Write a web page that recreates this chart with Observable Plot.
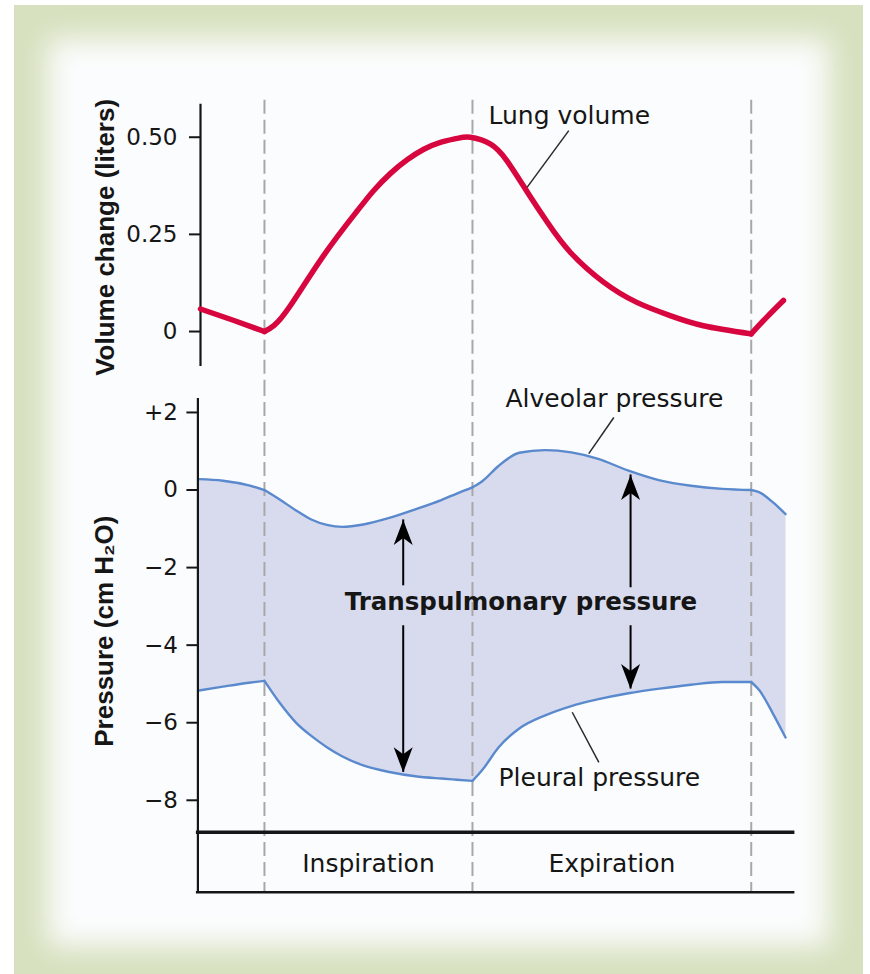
<!DOCTYPE html>
<html>
<head>
<meta charset="utf-8">
<script src="https://cdn.jsdelivr.net/npm/d3@7"></script>
<script src="https://cdn.jsdelivr.net/npm/@observablehq/plot@0.6"></script>
<style>
  html, body { margin: 0; padding: 0; background: #ffffff; }
  #page { position: relative; width: 870px; height: 974px; overflow: hidden; background: #ffffff; }
  #frame { position: absolute; left: 14px; top: 5px; width: 849px; height: 975px;
           background: #fbfcfd; box-shadow: inset 0 0 28px 34px #d7e1bf; }
  .panel { position: absolute; left: 0; }
</style>
</head>
<body>
<div id="page"><div id="frame"></div></div>
<script>
// ---------- data (time in arbitrary units; phase boundaries at dashed lines) ----------
const phaseBoundaries = [0, 2, 4.68];
const phaseNames = ["Inspiration", "Expiration"];

const volumeTime   = [-0.615, -0.3, 0, 0.09, 0.25, 0.57, 0.891, 1.051, 1.212, 1.372, 1.532, 1.692, 1.853, 1.98, 2.17, 2.33, 2.53, 2.72, 2.94, 3.26, 3.58, 3.90, 4.22, 4.68, 4.83, 4.99];
const volumeLiters = [0.058, 0.029, 0.0, 0.015, 0.067, 0.196, 0.310, 0.363, 0.407, 0.442, 0.469, 0.487, 0.497, 0.500, 0.483, 0.44, 0.358, 0.281, 0.204, 0.127, 0.075, 0.041, 0.015, -0.006, 0.037, 0.080];

const pressureTime     = [-0.635, -0.4, -0.15, 0, 0.15, 0.3, 0.45, 0.6, 0.75, 0.95, 1.2, 1.45, 1.7, 1.85, 2.0, 2.1, 2.25, 2.45, 2.7, 2.95, 3.2, 3.5, 3.8, 4.1, 4.4, 4.68, 4.76, 4.89, 5.01];
const alveolarPressure = [0.28, 0.24, 0.12, 0.0, -0.25, -0.52, -0.76, -0.90, -0.95, -0.89, -0.72, -0.50, -0.26, -0.09, 0.07, 0.24, 0.62, 0.96, 1.03, 0.97, 0.81, 0.50, 0.25, 0.11, 0.03, 0.0, -0.06, -0.32, -0.62];
const pleuralPressure  = [-5.17, -5.07, -4.97, -4.92, -5.50, -5.99, -6.34, -6.63, -6.87, -7.10, -7.27, -7.38, -7.44, -7.47, -7.50, -7.20, -6.64, -6.15, -5.81, -5.57, -5.40, -5.24, -5.12, -5.02, -4.95, -4.95, -5.17, -5.77, -6.38];

const volumeTicks   = [0, 0.25, 0.5];
const pressureTicks = [2, 0, -2, -4, -6, -8];

const volumeTitle   = "Volume change (liters)";
const pressureTitle = "Pressure (cm H\u2082O)";

// annotations (data units)
const volumeNotes   = [{t: 2.154, v: 0.533, label: "Lung volume"}];
const volumeLeaders = [{x1: 2.926, y1: 0.517, x2: 2.525, y2: 0.371}];
const pressureNotes = [
  {t: 2.317, p: 2.15, label: "Alveolar pressure"},
  {t: 2.25,  p: -7.62, label: "Pleural pressure"}
];
const pressureLeaders = [
  {x1: 3.359, y1: 1.87, x2: 3.118, y2: 0.94},
  {x1: 2.959, y1: -5.73, x2: 3.215, y2: -7.02}
];
const transpulmonaryLabel = [{t: 2.466, p: -2.88, label: "Transpulmonary pressure"}];
const transpulmonaryArrows = [
  {t: 1.334, from: -2.47, to: -0.77},
  {t: 1.334, from: -3.50, to: -7.28},
  {t: 3.52,  from: -2.52, to: 0.39},
  {t: 3.52,  from: -3.50, to: -5.13}
];

// ---------- build tables ----------
// split a series into pieces at the phase boundaries (corners), sharing the boundary points
const segmentize = (rows, cuts) => rows.flatMap(r => {
  const k = cuts.filter(c => c < r.t).length;
  return cuts.includes(r.t) ? [{...r, seg: k}, {...r, seg: k + 1}] : [{...r, seg: k}];
});
const volumeCorners = [phaseBoundaries[0], phaseBoundaries[2]];
const volume = segmentize(volumeTime.map((t, i) => ({t, v: volumeLiters[i]})), volumeCorners);
const pressure = segmentize(pressureTime.map((t, i) => ({t, alveolar: alveolarPressure[i], pleural: pleuralPressure[i]})), phaseBoundaries);
const phases = phaseNames.map((name, i) => ({name, start: phaseBoundaries[i], end: phaseBoundaries[i + 1]}));

// ---------- style ----------
const W = 870;
const INK = "#161616";
const RED = "#d7063f";
const BLUE = "#5a8acd";
const FILL = "#d8dbee";
const CURVE = "monotone-x";
const DASH = {stroke: "#a8a8a8", strokeWidth: 2, strokeDasharray: "14,6"};
const LABEL_FONT = "'DejaVu Sans', sans-serif";
const TITLE_FONT = "'Liberation Sans', Arial, sans-serif";
const baseStyle = {background: "transparent", overflow: "visible", fontFamily: LABEL_FONT, color: INK};

const headUp = {draw(ctx) { ctx.moveTo(0, 0); ctx.lineTo(9.5, 25); ctx.lineTo(0, 18); ctx.lineTo(-9.5, 25); ctx.closePath(); }};
const headDown = {draw(ctx) { ctx.moveTo(0, 0); ctx.lineTo(9.5, -25); ctx.lineTo(0, -18); ctx.lineTo(-9.5, -25); ctx.closePath(); }};

const fmtVolume = d => d === 0 ? "0" : d.toFixed(2);
const fmtPressure = d => d > 0 ? "+" + d : d < 0 ? "\u2212" + Math.abs(d) : "0";

// ---------- panel 1: lung volume ----------
const volDomainX = [-0.615, 5.1];
const p1 = Plot.plot({
  width: W, height: 292,
  marginLeft: 200, marginRight: 75.6, marginTop: 13.7, marginBottom: 16,
  x: {domain: volDomainX, axis: null},
  y: {domain: [-0.09, 0.585]},
  style: baseStyle,
  marks: [
    Plot.ruleX(phaseBoundaries, {...DASH, insetTop: -4, insetBottom: -16}),
    Plot.axisY({ticks: volumeTicks, tickFormat: fmtVolume, tickSize: 11, tickPadding: 12, strokeWidth: 2, fontSize: 23, label: null}),
    Plot.ruleX([volDomainX[0]], {stroke: INK, strokeWidth: 2.2}),
    Plot.line(volume, {x: "t", y: "v", z: "seg", stroke: RED, strokeWidth: 5.5, curve: "natural", strokeLinejoin: "round", strokeLinecap: "round"}),
    Plot.link(volumeLeaders, {x1: "x1", y1: "y1", x2: "x2", y2: "y2", stroke: "#2a2a2a", strokeWidth: 1.5}),
    Plot.text(volumeNotes, {x: "t", y: "v", text: "label", textAnchor: "start", lineAnchor: "bottom", fontSize: 25, fill: INK}),
    Plot.text([volumeTitle], {frameAnchor: "left", textAnchor: "middle", lineAnchor: "middle", rotate: -90, dx: -95, dy: 2, fontSize: 26, fontWeight: "bold", fontFamily: TITLE_FONT, fill: INK})
  ]
});
p1.classList.add("panel"); p1.style.top = "90px";

// ---------- panel 2: pressures ----------
const presDomainX = [-0.64, 5.1];
const p2 = Plot.plot({
  width: W, height: 444,
  marginLeft: 197.4, marginRight: 75.6, marginTop: 16, marginBottom: 10.7,
  x: {domain: presDomainX, axis: null},
  y: {domain: [-8.4, 2.36]},
  style: baseStyle,
  marks: [
    Plot.areaY(pressure, {x: "t", y1: "pleural", y2: "alveolar", z: "seg", fill: FILL, stroke: FILL, strokeWidth: 0.8, curve: CURVE}),
    Plot.ruleX(phaseBoundaries, {...DASH, insetTop: -16, insetBottom: -10.7}),
    Plot.line(pressure, {x: "t", y: "alveolar", z: "seg", stroke: BLUE, strokeWidth: 2.4, curve: CURVE}),
    Plot.line(pressure, {x: "t", y: "pleural", z: "seg", stroke: BLUE, strokeWidth: 2.4, curve: CURVE}),
    Plot.axisY({ticks: pressureTicks, tickFormat: fmtPressure, tickSize: 11, tickPadding: 9, strokeWidth: 2, fontSize: 23, label: null}),
    Plot.ruleX([presDomainX[0]], {stroke: INK, strokeWidth: 2.2, insetBottom: -10.7}),
    Plot.ruleX(transpulmonaryArrows, {x: "t", y1: "from", y2: "to", stroke: "#000", strokeWidth: 2}),
    Plot.dot(transpulmonaryArrows.filter(d => d.to > d.from), {x: "t", y: "to", symbol: headUp, fill: "#000", stroke: "none", r: 5}),
    Plot.dot(transpulmonaryArrows.filter(d => d.to < d.from), {x: "t", y: "to", symbol: headDown, fill: "#000", stroke: "none", r: 5}),
    Plot.text(transpulmonaryLabel, {x: "t", y: "p", text: "label", lineAnchor: "middle", fontSize: 24.5, fontWeight: "bold", fill: INK}),
    Plot.link(pressureLeaders, {x1: "x1", y1: "y1", x2: "x2", y2: "y2", stroke: "#2a2a2a", strokeWidth: 1.5}),
    Plot.text(pressureNotes, {x: "t", y: "p", text: "label", textAnchor: "start", lineAnchor: "bottom", fontSize: 25, fill: INK}),
    Plot.text([pressureTitle], {frameAnchor: "left", textAnchor: "middle", lineAnchor: "middle", rotate: -90, dx: -93, dy: 24, fontSize: 26, fontWeight: "bold", fontFamily: TITLE_FONT, fill: INK})
  ]
});
p2.classList.add("panel"); p2.style.top = "382px";

// ---------- panel 3: phase strip ----------
const p3 = Plot.plot({
  width: W, height: 74,
  marginLeft: 197.4, marginRight: 75.6, marginTop: 5.7, marginBottom: 8.3,
  x: {domain: presDomainX, axis: null},
  y: {domain: [0, 1], axis: null},
  style: baseStyle,
  marks: [
    Plot.ruleX(phaseBoundaries, {...DASH, insetTop: -5.7, strokeDashoffset: 4}),
    Plot.ruleX([presDomainX[0]], {stroke: INK, strokeWidth: 2.2, insetTop: -5.7}),
    Plot.ruleY([1], {stroke: INK, strokeWidth: 3.4, insetLeft: -1.5}),
    Plot.ruleY([0], {stroke: INK, strokeWidth: 2.4, insetLeft: -1.5}),
    Plot.text(phases, {x: d => (d.start + d.end) / 2, y: () => 0.5, text: "name", lineAnchor: "middle", dy: 2, fontSize: 25, fill: INK})
  ]
});
p3.classList.add("panel"); p3.style.top = "826px";

document.getElementById("page").append(p1, p2, p3);
</script>
</body>
</html>
